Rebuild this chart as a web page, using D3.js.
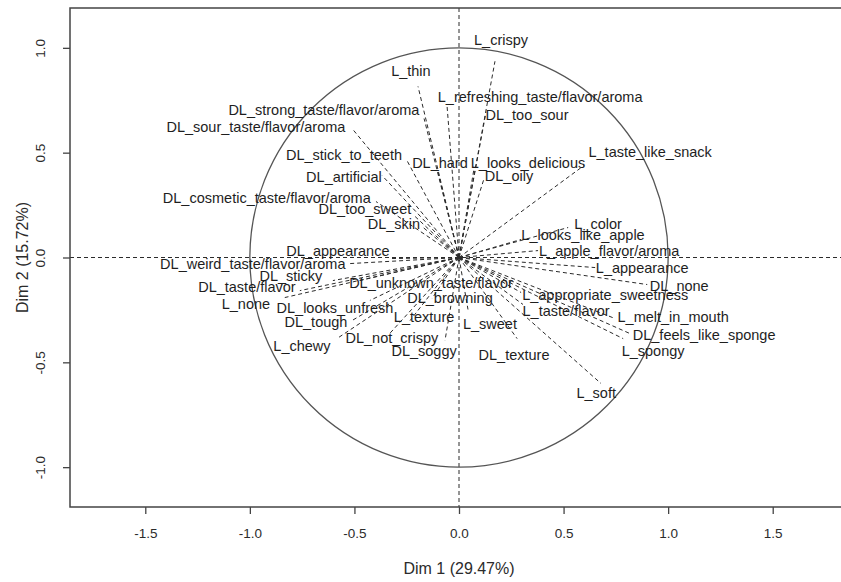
<!DOCTYPE html>
<html>
<head>
<meta charset="utf-8">
<script src="https://cdn.jsdelivr.net/npm/d3@7"></script>
<style>
  html, body { margin: 0; padding: 0; background: #fff; }
  svg { display: block; }
  text { font-family: "Liberation Sans", Arial, sans-serif; }
</style>
</head>
<body>
<svg id="chart" width="841" height="582"></svg>
<script>
// Variable names of the factor map
const varNames = [
  "L_crispy", "L_thin", "L_refreshing_taste/flavor/aroma", "DL_too_sour", "L_taste_like_snack",
  "DL_strong_taste/flavor/aroma", "DL_sour_taste/flavor/aroma", "DL_stick_to_teeth", "DL_artificial",
  "DL_cosmetic_taste/flavor/aroma", "DL_too_sweet", "DL_skin", "DL_hard", "L_looks_delicious", "DL_oily",
  "L_color", "L_looks_like_apple", "L_apple_flavor/aroma", "L_appearance", "DL_none",
  "L_appropriate_sweetness", "L_taste/flavor", "L_melt_in_mouth", "DL_feels_like_sponge", "L_spongy",
  "L_soft", "DL_texture", "L_sweet", "DL_browning", "DL_unknown_taste/flavor", "L_texture",
  "DL_not_crispy", "DL_soggy", "DL_tough", "DL_looks_unfresh", "L_none", "DL_taste/flavor",
  "DL_sticky", "DL_weird_taste/flavor/aroma", "DL_appearance", "L_chewy"
];

// Coordinates of each variable on Dim 1 and Dim 2
const dim1 = [
  0.172, -0.196, -0.057, 0.129, 0.598,
  -0.167, -0.512, -0.249, -0.368,
  -0.397, -0.220, -0.177, -0.100, 0.072, 0.120,
  0.522, 0.297, 0.378, 0.651, 0.900,
  0.297, 0.306, 0.746, 0.818, 0.785,
  0.679, 0.278, 0.043, -0.129, -0.474, -0.234,
  -0.340, -0.067, -0.512, -0.426, -0.833, -0.761,
  -0.603, -0.522, -0.321, -0.584
];
const dim2 = [
  0.936, 0.816, 0.721, 0.692, 0.439,
  0.663, 0.616, 0.463, 0.391,
  0.267, 0.205, 0.148, 0.406, 0.425, 0.377,
  0.143, 0.086, 0.033, -0.048, -0.129,
  -0.167, -0.224, -0.291, -0.363, -0.387,
  -0.601, -0.387, -0.248, -0.196, -0.110, -0.301,
  -0.372, -0.396, -0.301, -0.205, -0.191, -0.158,
  -0.110, -0.029, -0.005, -0.387
];

// Label anchor points (centre of each label) after overlap avoidance
const labelDim1 = [
  0.201, -0.230, 0.388, 0.325, 0.914,
  -0.646, -0.971, -0.550, -0.550,
  -0.919, -0.450, -0.311, -0.091, 0.330, 0.239,
  0.665, 0.593, 0.718, 0.876, 1.053,
  0.699, 0.512, 1.024, 1.172, 0.928,
  0.656, 0.263, 0.148, -0.043, -0.134, -0.167,
  -0.321, -0.167, -0.684, -0.593, -1.019, -1.014,
  -0.804, -0.986, -0.579, -0.751
];
const labelDim2 = [
  1.036, 0.888, 0.764, 0.678, 0.501,
  0.702, 0.621, 0.487, 0.382,
  0.286, 0.229, 0.162, 0.449, 0.449, 0.391,
  0.162, 0.105, 0.029, -0.048, -0.134,
  -0.181, -0.253, -0.286, -0.372, -0.444,
  -0.644, -0.463, -0.315, -0.191, -0.124, -0.286,
  -0.382, -0.444, -0.310, -0.239, -0.220, -0.143,
  -0.086, -0.029, 0.033, -0.420
];

const xTicks = [-1.5, -1.0, -0.5, 0.0, 0.5, 1.0, 1.5];
const yTicks = [-1.0, -0.5, 0.0, 0.5, 1.0];
const xTitle = "Dim 1 (29.47%)";
const yTitle = "Dim 2 (15.72%)";

const svg = d3.select("#chart");
const padL = 70, padR = 848, padT = 8, padB = 507;

const x = d3.scaleLinear().domain([-1.86, 1.86]).range([padL, padR]);
const y = d3.scaleLinear().domain([-1.19, 1.19]).range([padB, padT]);

const ink = "#2b2b2b";

// Clip region for the plot panel
svg.append("defs").append("clipPath").attr("id", "panel")
  .append("rect").attr("x", padL).attr("y", padT)
  .attr("width", padR - padL).attr("height", padB - padT);

const panel = svg.append("g").attr("clip-path", "url(#panel)");

// Reference axes through the origin
panel.append("line")
  .attr("x1", padL).attr("x2", padR)
  .attr("y1", y(0)).attr("y2", y(0))
  .attr("stroke", ink).attr("stroke-width", 1).attr("stroke-dasharray", "4,3");
panel.append("line")
  .attr("x1", x(0)).attr("x2", x(0))
  .attr("y1", padT).attr("y2", padB)
  .attr("stroke", ink).attr("stroke-width", 1).attr("stroke-dasharray", "4,3");

// Unit correlation circle
panel.append("ellipse")
  .attr("cx", x(0)).attr("cy", y(0))
  .attr("rx", x(1) - x(0)).attr("ry", y(0) - y(1))
  .attr("fill", "none").attr("stroke", "#555").attr("stroke-width", 1.3);

const rows = varNames.map((name, i) => ({
  name, d1: dim1[i], d2: dim2[i], l1: labelDim1[i], l2: labelDim2[i]
}));

// Variable vectors from the origin
panel.selectAll("line.vec").data(rows).enter().append("line")
  .attr("class", "vec")
  .attr("x1", x(0)).attr("y1", y(0))
  .attr("x2", d => x(d.d1)).attr("y2", d => y(d.d2))
  .attr("stroke", ink).attr("stroke-width", 1).attr("stroke-dasharray", "4,3");

// Variable labels
svg.selectAll("text.lab").data(rows).enter().append("text")
  .attr("class", "lab")
  .attr("x", d => x(d.l1)).attr("y", d => y(d.l2))
  .attr("text-anchor", "middle").attr("dominant-baseline", "central")
  .attr("font-size", 14.5).attr("fill", "#1e1e1e")
  .text(d => d.name);

// Panel frame
svg.append("path")
  .attr("d", `M${padR},${padT}H${padL}V${padB}H${padR}`)
  .attr("fill", "none").attr("stroke", "#444").attr("stroke-width", 1.5);

// Tick labels with a plain hyphen for negatives
const fmt = v => v.toFixed(1);

// Bottom axis
const xAxis = svg.append("g").attr("transform", `translate(0,${padB})`)
  .call(d3.axisBottom(x).tickValues(xTicks).tickFormat(fmt).tickSize(7).tickPadding(14));
xAxis.select(".domain").remove();
xAxis.selectAll("line").attr("stroke", "#444").attr("stroke-width", 1.3);
xAxis.selectAll("text").attr("font-size", 13.5).attr("fill", ink)
  .attr("font-family", "Liberation Sans, Arial, sans-serif");

// Left axis with rotated tick labels
const yAxis = svg.append("g").attr("transform", `translate(${padL},0)`)
  .call(d3.axisLeft(y).tickValues(yTicks).tickFormat(fmt).tickSize(7));
yAxis.select(".domain").remove();
yAxis.selectAll("line").attr("stroke", "#444").attr("stroke-width", 1.3);
yAxis.selectAll("text")
  .attr("x", null).attr("dy", null)
  .attr("transform", "translate(-30,0) rotate(-90)")
  .attr("text-anchor", "middle").attr("dominant-baseline", "central")
  .attr("font-size", 13.5).attr("fill", ink)
  .attr("font-family", "Liberation Sans, Arial, sans-serif");

// Axis titles
svg.append("text")
  .attr("x", x(0)).attr("y", 568)
  .attr("text-anchor", "middle").attr("dominant-baseline", "central")
  .attr("font-size", 16).attr("fill", ink)
  .text(xTitle);
svg.append("text")
  .attr("transform", `translate(22,${y(0)}) rotate(-90)`)
  .attr("text-anchor", "middle").attr("dominant-baseline", "central")
  .attr("font-size", 16).attr("fill", ink)
  .text(yTitle);
</script>
</body>
</html>
